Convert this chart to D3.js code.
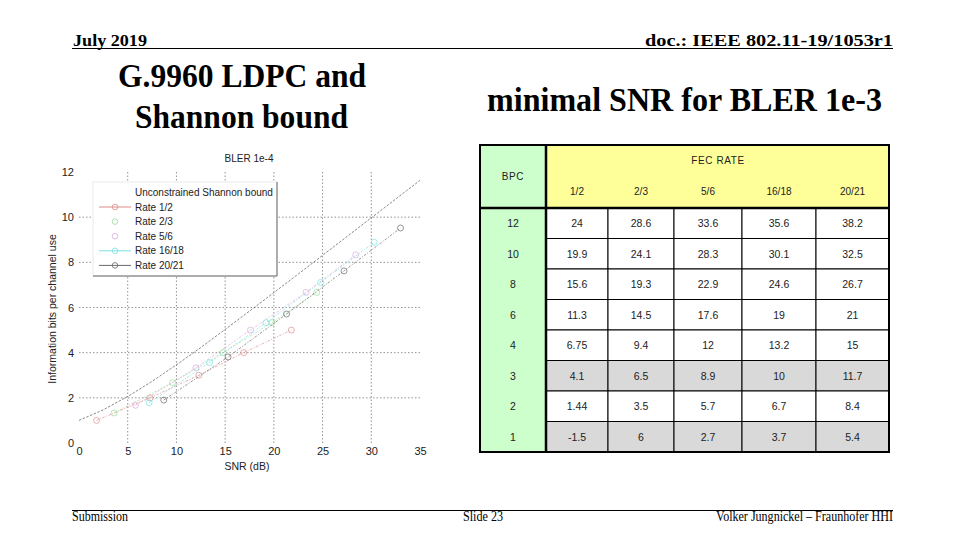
<!DOCTYPE html>
<html>
<head>
<meta charset="utf-8">
<script src="https://cdn.jsdelivr.net/npm/d3@7"></script>
<style>
  body { margin: 0; background: #fff; }
  svg { display: block; }
</style>
</head>
<body>
<svg id="slide" width="960" height="540"></svg>
<script>
// axis ticks
var snrTicks = [0, 5, 10, 15, 20, 25, 30, 35];
var bitTicks = [0, 2, 4, 6, 8, 10, 12];

// unconstrained shannon bound
var shannonSnr  = [0, 2.5, 5, 7.5, 10, 12.5, 15, 17.5, 20, 22.5, 25, 27.5, 30, 32.5, 35];
var shannonBits = [1.0, 1.47, 2.06, 2.73, 3.46, 4.23, 5.03, 5.84, 6.66, 7.48, 8.31, 9.14, 9.97, 10.8, 11.63];

// LDPC curves (BLER 1e-4)
var rateNames = ["Rate 1/2", "Rate 2/3", "Rate 5/6", "Rate 16/18", "Rate 20/21"];
var rateSnr = [
  [1.8, 7.3, 12.3, 16.9, 21.8],
  [3.6, 9.6, 14.8, 19.8, 24.4],
  [5.8, 12.0, 17.6, 23.3, 28.4],
  [7.2, 13.4, 19.2, 24.8, 30.3],
  [8.7, 15.3, 21.3, 27.2, 33.0]
];
var rateBits = [
  [1.0, 2.0, 3.0, 4.0, 5.0],
  [1.33, 2.67, 4.0, 5.33, 6.67],
  [1.67, 3.33, 5.0, 6.67, 8.33],
  [1.78, 3.56, 5.33, 7.11, 8.89],
  [1.9, 3.81, 5.71, 7.62, 9.52]
];
var rateColors = ["#dc8c8c", "#9adb9a", "#d9aad9", "#78e2e2", "#6a6a6a"];
var legendHasLine = [true, false, false, true, true];

// table: minimal SNR for BLER 1e-3
var fecRates = ["1/2", "2/3", "5/6", "16/18", "20/21"];
var bpcRows = [12, 10, 8, 6, 4, 3, 2, 1];
var snrTable = [
  [24, 28.6, 33.6, 35.6, 38.2],
  [19.9, 24.1, 28.3, 30.1, 32.5],
  [15.6, 19.3, 22.9, 24.6, 26.7],
  [11.3, 14.5, 17.6, 19, 21],
  [6.75, 9.4, 12, 13.2, 15],
  [4.1, 6.5, 8.9, 10, 11.7],
  [1.44, 3.5, 5.7, 6.7, 8.4],
  [-1.5, 6, 2.7, 3.7, 5.4]
];
var shadedBpc = [3, 1];

var svg = d3.select("#slide");
var serif = "'Liberation Serif', 'Times New Roman', serif";
var sans = "'Liberation Sans', Arial, sans-serif";

// ---- slide frame ----
svg.append("text").attr("x", 73).attr("y", 46)
  .attr("font-family", serif).attr("font-weight", "bold").attr("font-size", 17)
  .attr("textLength", 74).attr("lengthAdjust", "spacingAndGlyphs").text("July 2019");
svg.append("text").attr("x", 893).attr("y", 46).attr("text-anchor", "end")
  .attr("font-family", serif).attr("font-weight", "bold").attr("font-size", 17)
  .attr("textLength", 248).attr("lengthAdjust", "spacingAndGlyphs").text("doc.: IEEE 802.11-19/1053r1");
svg.append("line").attr("x1", 72).attr("x2", 893).attr("y1", 48.5).attr("y2", 48.5)
  .attr("stroke", "#000").attr("stroke-width", 1);

svg.append("line").attr("x1", 72).attr("x2", 893).attr("y1", 510.5).attr("y2", 510.5)
  .attr("stroke", "#000").attr("stroke-width", 1);
svg.append("text").attr("x", 72).attr("y", 521)
  .attr("font-family", serif).attr("font-size", 14)
  .attr("textLength", 56).attr("lengthAdjust", "spacingAndGlyphs").text("Submission");
svg.append("text").attr("x", 463).attr("y", 521)
  .attr("font-family", serif).attr("font-size", 14)
  .attr("textLength", 40).attr("lengthAdjust", "spacingAndGlyphs").text("Slide 23");
svg.append("text").attr("x", 893).attr("y", 521).attr("text-anchor", "end")
  .attr("font-family", serif).attr("font-size", 14)
  .attr("textLength", 177).attr("lengthAdjust", "spacingAndGlyphs").text("Volker Jungnickel – Fraunhofer HHI");

// titles
[["G.9960 LDPC and", 118, 87, 248], ["Shannon bound", 135, 128, 213], ["minimal SNR for BLER 1e-3", 487, 111, 395]]
  .forEach(function(t) {
    svg.append("text").attr("x", t[1]).attr("y", t[2])
      .attr("font-family", serif).attr("font-weight", "bold").attr("font-size", 33)
      .attr("textLength", t[3]).attr("lengthAdjust", "spacingAndGlyphs").text(t[0]);
  });

// ---- plot ----
var x = d3.scaleLinear().domain([0, 35]).range([79, 420]);
var y = d3.scaleLinear().domain([0, 12]).range([443, 172]);
var plot = svg.append("g");

// grid
plot.selectAll(".gx").data(snrTicks.slice(1, -1)).enter().append("line")
  .attr("x1", function(d) { return x(d); }).attr("x2", function(d) { return x(d); })
  .attr("y1", y(0)).attr("y2", y(12))
  .attr("stroke", "#777").attr("stroke-width", 0.8).attr("stroke-dasharray", "1.5,2");
plot.selectAll(".gy").data(bitTicks.slice(1, -1)).enter().append("line")
  .attr("x1", x(0)).attr("x2", x(35))
  .attr("y1", function(d) { return y(d); }).attr("y2", function(d) { return y(d); })
  .attr("stroke", "#777").attr("stroke-width", 0.8).attr("stroke-dasharray", "1.5,2");

// tick labels
var xAxis = plot.append("g").attr("transform", "translate(0," + (y(0) + 2) + ")")
  .call(d3.axisBottom(x).tickValues(snrTicks).tickSize(0).tickPadding(2));
var yAxis = plot.append("g").attr("transform", "translate(" + (x(0) - 3) + ",0)")
  .call(d3.axisLeft(y).tickValues(bitTicks).tickSize(0).tickPadding(2));
[xAxis, yAxis].forEach(function(a) {
  a.select(".domain").remove();
  a.selectAll("text").attr("font-family", sans).attr("font-size", 11).attr("fill", "#222");
});

plot.append("text").attr("x", 249).attr("y", 162).attr("text-anchor", "middle")
  .attr("font-family", sans).attr("font-size", 10).attr("fill", "#222").text("BLER 1e-4");
plot.append("text").attr("x", 247).attr("y", 470).attr("text-anchor", "middle")
  .attr("font-family", sans).attr("font-size", 10.5).attr("fill", "#222").text("SNR (dB)");
plot.append("text").attr("transform", "translate(56,309) rotate(-90)").attr("text-anchor", "middle")
  .attr("font-family", sans).attr("font-size", 10.5).attr("fill", "#222")
  .text("Information bits per channel use");

// shannon bound
var shannon = shannonSnr.map(function(s, i) { return [s, shannonBits[i]]; });
var line = d3.line().x(function(d) { return x(d[0]); }).y(function(d) { return y(d[1]); });
plot.append("path").attr("d", line(shannon)).attr("fill", "none")
  .attr("stroke", "#555").attr("stroke-width", 0.7).attr("stroke-dasharray", "2.5,1.5");

// rate curves
rateNames.forEach(function(name, k) {
  var pts = rateSnr[k].map(function(s, i) { return [s, rateBits[k][i]]; });
  var g = plot.append("g");
  g.append("path").attr("d", line(pts)).attr("fill", "none")
    .attr("stroke", rateColors[k]).attr("stroke-width", 0.7).attr("stroke-dasharray", "2.5,1.5,1,1.5");
  g.selectAll("circle").data(pts).enter().append("circle")
    .attr("cx", function(d) { return x(d[0]); }).attr("cy", function(d) { return y(d[1]); })
    .attr("r", 3).attr("fill", "none").attr("stroke", rateColors[k]).attr("stroke-width", 0.7);
});

// legend
var leg = plot.append("g").attr("transform", "translate(93,182)");
leg.append("rect").attr("width", 184).attr("height", 94).attr("fill", "#fff")
  .attr("stroke", "#e4e4e4").attr("stroke-width", 0.8);
leg.append("path").attr("d", "M184,0V94H0").attr("fill", "none").attr("stroke", "#666").attr("stroke-width", 1);
leg.append("text").attr("x", 42).attr("y", 14).attr("font-family", sans).attr("font-size", 10)
  .attr("fill", "#222").text("Unconstrained Shannon bound");
rateNames.forEach(function(name, k) {
  var ly = 25 + k * 14.6;
  if (legendHasLine[k]) {
    leg.append("line").attr("x1", 6).attr("x2", 38).attr("y1", ly).attr("y2", ly)
      .attr("stroke", rateColors[k]).attr("stroke-width", 1);
  }
  leg.append("circle").attr("cx", 22).attr("cy", ly).attr("r", 2.8)
    .attr("fill", "none").attr("stroke", rateColors[k]).attr("stroke-width", 0.8);
  leg.append("text").attr("x", 42).attr("y", ly + 3.5).attr("font-family", sans).attr("font-size", 10)
    .attr("fill", "#222").text(name);
});

// ---- table ----
var colWidths = [62, 66, 68, 74, 73];
var colEdges = [546].concat(Array.from(d3.cumsum(colWidths), function(w) { return 546 + w; }));
var rowY = d3.scaleBand().domain(bpcRows).range([208, 452]);
var tbl = svg.append("g");
var tableRight = colEdges[colEdges.length - 1];

tbl.append("rect").attr("x", 480).attr("y", 145).attr("width", 66).attr("height", 307).attr("fill", "#ccffcc");
tbl.append("rect").attr("x", 546).attr("y", 145).attr("width", tableRight - 546).attr("height", 63).attr("fill", "#ffff99");

bpcRows.forEach(function(b, r) {
  fecRates.forEach(function(rate, c) {
    tbl.append("rect").attr("x", colEdges[c]).attr("y", rowY(b))
      .attr("width", colWidths[c]).attr("height", rowY.bandwidth())
      .attr("fill", shadedBpc.indexOf(b) >= 0 ? "#d9d9d9" : "#fff")
      .attr("stroke", "#000").attr("stroke-width", 1);
    tbl.append("text").attr("x", colEdges[c] + colWidths[c] / 2).attr("y", rowY(b) + rowY.bandwidth() / 2 + 4)
      .attr("text-anchor", "middle").attr("font-family", sans).attr("font-size", 10.5).attr("fill", "#222")
      .text(snrTable[r][c]);
  });
  tbl.append("text").attr("x", 513).attr("y", rowY(b) + rowY.bandwidth() / 2 + 4)
    .attr("text-anchor", "middle").attr("font-family", sans).attr("font-size", 10.5).attr("fill", "#222")
    .text(b);
});

fecRates.forEach(function(rate, c) {
  tbl.append("text").attr("x", colEdges[c] + colWidths[c] / 2).attr("y", 195)
    .attr("text-anchor", "middle").attr("font-family", sans).attr("font-size", 10).attr("fill", "#222")
    .text(rate);
});
tbl.append("text").attr("x", 718).attr("y", 164).attr("text-anchor", "middle")
  .attr("font-family", sans).attr("font-size", 10).attr("letter-spacing", 0.6).attr("fill", "#222").text("FEC RATE");
tbl.append("text").attr("x", 513).attr("y", 180).attr("text-anchor", "middle")
  .attr("font-family", sans).attr("font-size", 10).attr("letter-spacing", 0.6).attr("fill", "#222").text("BPC");

// heavy borders
tbl.append("line").attr("x1", 480).attr("x2", tableRight).attr("y1", 208).attr("y2", 208)
  .attr("stroke", "#000").attr("stroke-width", 2.5);
tbl.append("line").attr("x1", 546).attr("x2", 546).attr("y1", 145).attr("y2", 452)
  .attr("stroke", "#000").attr("stroke-width", 2.5);
tbl.append("rect").attr("x", 480).attr("y", 145).attr("width", tableRight - 480).attr("height", 307)
  .attr("fill", "none").attr("stroke", "#000").attr("stroke-width", 2);
</script>
</body>
</html>
